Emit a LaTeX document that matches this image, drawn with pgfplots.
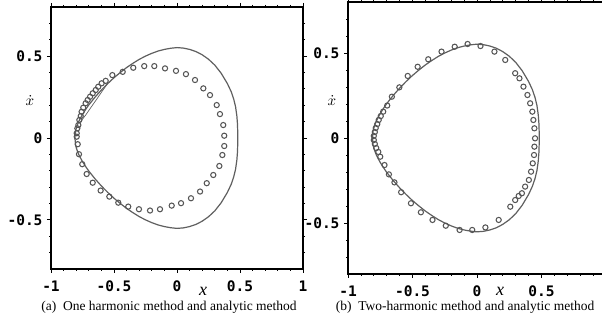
\documentclass[border=0pt]{standalone}
\usepackage{fontspec}
\setmainfont{Liberation Serif}
\newfontfamily\tickfont{DejaVu Sans Mono}
\usepackage{pgfplots}
\pgfplotsset{compat=1.18}
\definecolor{curvegray}{RGB}{95,95,95}
\definecolor{markgray}{RGB}{85,85,85}

\pgfplotsset{
  panel/.style={
    scale only axis,
    anchor=south west,
    xmin=-1, xmax=1, ymin=-0.8, ymax=0.8,
    axis line style={line width=1.3pt, black},
    xtick={-1,-0.5,0,0.5,1},
    xticklabels={-1,-0.5,0,0.5,1},
    ytick={-0.5,0,0.5},
    yticklabels={-0.5,0,0.5},
    minor xtick={-0.9,-0.8,-0.7,-0.6,-0.4,-0.3,-0.2,-0.1,0.1,0.2,0.3,0.4,0.6,0.7,0.8,0.9},
    minor ytick={-0.7,-0.6,-0.4,-0.3,-0.2,-0.1,0.1,0.2,0.3,0.4,0.6,0.7},
    tick align=outside,
    major tick length=4pt, minor tick length=2pt,
    tick style={black, line width=0.8pt},
    ticklabel style={font=\fontsize{14.5}{14.5}\tickfont\bfseries},
    xticklabel style={yshift=-4pt},
    yticklabel style={xshift=-1pt},
    clip=false,
  },
  curve/.style={curvegray, line width=1.2pt, no marks},
  dots/.style={only marks, mark=o, mark size=2.6pt, mark options={markgray, line width=1.05pt}},
}

\pgfplotstableread{
x y
-0.810 0.000
-0.805 0.042
-0.800 0.058
-0.790 0.081
-0.780 0.100
-0.770 0.116
-0.750 0.144
-0.720 0.180
-0.700 0.202
-0.650 0.250
-0.600 0.293
-0.550 0.332
-0.500 0.368
-0.450 0.400
-0.400 0.430
-0.350 0.456
-0.300 0.480
-0.250 0.500
-0.200 0.517
-0.150 0.531
-0.100 0.541
-0.050 0.548
0.000 0.552
0.050 0.549
0.100 0.541
0.150 0.528
0.200 0.508
0.250 0.481
0.300 0.445
0.350 0.396
0.400 0.332
0.430 0.283
0.450 0.238
0.465 0.190
0.475 0.135
0.480 0.085
0.482 0.035
0.482 0.000
0.482 -0.035
0.480 -0.085
0.475 -0.135
0.465 -0.190
0.450 -0.238
0.430 -0.283
0.400 -0.332
0.350 -0.396
0.300 -0.445
0.250 -0.481
0.200 -0.508
0.150 -0.528
0.100 -0.541
0.050 -0.549
0.000 -0.552
-0.050 -0.548
-0.100 -0.541
-0.150 -0.531
-0.200 -0.517
-0.250 -0.500
-0.300 -0.480
-0.350 -0.456
-0.400 -0.430
-0.450 -0.400
-0.500 -0.368
-0.550 -0.332
-0.600 -0.293
-0.650 -0.250
-0.700 -0.202
-0.720 -0.180
-0.750 -0.144
-0.770 -0.116
-0.780 -0.100
-0.790 -0.081
-0.800 -0.058
-0.805 -0.042
-0.810 0.000
}\analytic

\pgfplotstableread{
x y
-0.513 0.384
-0.431 0.404
-0.347 0.429
-0.260 0.439
-0.180 0.439
-0.095 0.425
-0.008 0.410
0.071 0.390
0.143 0.354
0.209 0.303
0.262 0.262
0.315 0.201
0.341 0.146
0.367 0.079
0.375 0.014
0.375 -0.049
0.360 -0.104
0.336 -0.171
0.288 -0.226
0.236 -0.276
0.183 -0.327
0.111 -0.368
0.032 -0.398
-0.042 -0.413
-0.135 -0.435
-0.214 -0.443
-0.302 -0.435
-0.387 -0.419
-0.466 -0.395
-0.537 -0.358
-0.606 -0.321
-0.669 -0.273
-0.717 -0.220
-0.752 -0.160
-0.778 -0.099
-0.788 -0.038
-0.796 0.008
-0.796 0.029
-0.791 0.059
-0.783 0.079
-0.775 0.110
-0.764 0.134
-0.757 0.160
-0.744 0.185
-0.725 0.212
-0.709 0.232
-0.690 0.252
-0.669 0.273
-0.645 0.293
-0.625 0.313
-0.598 0.334
-0.566 0.349
}\oneharm

\pgfplotstableread{
x y
0.027 0.541
-0.073 0.553
-0.173 0.537
-0.275 0.508
-0.378 0.463
-0.460 0.419
-0.537 0.365
-0.602 0.298
-0.660 0.243
-0.696 0.191
-0.727 0.155
-0.746 0.129
-0.762 0.106
-0.773 0.082
-0.785 0.059
-0.792 0.035
-0.800 0.012
-0.800 -0.012
-0.792 -0.035
-0.781 -0.059
-0.765 -0.082
-0.750 -0.110
-0.717 -0.159
-0.683 -0.214
-0.640 -0.261
-0.588 -0.319
-0.512 -0.384
-0.435 -0.437
-0.345 -0.482
-0.242 -0.516
-0.135 -0.541
-0.037 -0.541
0.065 -0.526
0.168 -0.482
0.258 -0.404
0.296 -0.365
0.323 -0.341
0.348 -0.325
0.373 -0.286
0.402 -0.247
0.419 -0.198
0.432 -0.149
0.442 -0.100
0.445 -0.051
0.450 -0.002
0.445 0.057
0.437 0.106
0.429 0.155
0.412 0.204
0.391 0.253
0.360 0.302
0.329 0.351
0.296 0.381
0.219 0.459
0.135 0.508
}\twoharm

\begin{document}
\begin{tikzpicture}
\clip (0,0) rectangle (602pt,326pt);
% ---------- (a) ----------
\begin{axis}[panel, at={(51pt,57pt)}, width=252pt, height=262pt]
\addplot[curve] table {\analytic};
\addplot[curvegray, line width=0.7pt] coordinates {(-0.77,0.095) (-0.725,0.140) (-0.68,0.19) (-0.63,0.245) (-0.59,0.29) (-0.55,0.333)};
\addplot[dots] table {\oneharm};
\end{axis}
% ---------- (b) ----------
\begin{axis}[panel, at={(348pt,52pt)}, width=258pt, height=272pt,
  xticklabels={-1,-0.5,0,0.5,{}}, xticklabel style={yshift=-0.5pt}]
\addplot[curve] table {\analytic};
\addplot[dots] table {\twoharm};
\end{axis}
% labels
\node[scale=1.5] at (30pt,226pt) {$\dot{x}$};
\node[scale=1.5] at (332pt,226pt) {$\dot{x}$};
\node[font=\fontsize{18}{18}\selectfont\itshape] at (203pt,35pt) {x};
\node[font=\fontsize{18}{18}\selectfont\itshape] at (500pt,35pt) {x};
\node[font=\fontsize{13.5}{14}\selectfont] at (169pt,18.5pt) {(a)\ \ One harmonic method and analytic method};
\node[font=\fontsize{13.5}{14}\selectfont] at (465pt,18.5pt) {(b)\ \ Two-harmonic method and analytic method};
\end{tikzpicture}
\end{document}
